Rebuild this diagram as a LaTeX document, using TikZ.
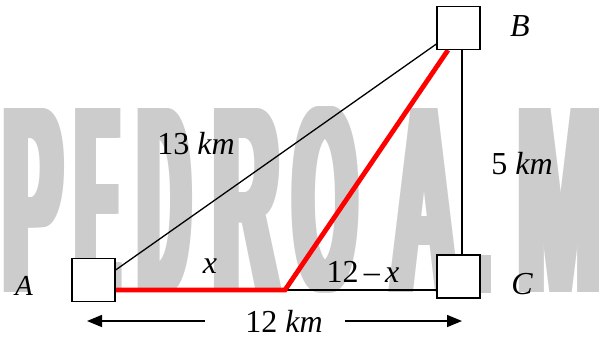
\documentclass[tikz,border=0pt]{standalone}
\usepackage{fontspec}
\setmainfont{Liberation Serif}
\newfontfamily\wmfont{Liberation Sans}
\usetikzlibrary{arrows.meta}
\definecolor{wmgray}{HTML}{CCCCCC}
\definecolor{redline}{HTML}{FF0000}
\tikzset{
  box/.style={draw=black, fill=white, line width=1.2pt, minimum size=43pt, inner sep=0pt},
  thin/.style={draw=black, line width=1.3pt},
  route/.style={draw=redline, line width=4.8pt, line join=miter},
  dimarrow/.style={draw=black, line width=1.5pt, -{Triangle[length=15pt,width=12pt]}},
  lbl/.style={font=\fontsize{32}{36}\selectfont, inner sep=0pt, anchor=base},
  wm/.style={text=wmgray, inner sep=0pt, anchor=south west},
}
% #1 left x, #2 base width, #3 letter, #4 name
\newcommand{\wmletter}[4]{%
  \foreach \d in {0,2,...,12}{%
    \node[wm] (#4\d) at (#1+\d,293) {\resizebox{#2}{184pt}{\fontsize{200}{200}\selectfont\wmfont\bfseries #3}};
  }}
\begin{document}
\begin{tikzpicture}[x=1pt, y=-1pt]
\path[use as bounding box] (0,0) rectangle (599,338);
% watermark "PEDRO A. M"
\wmletter{-2}{57pt}{P}{wP}
\wmletter{71}{41pt}{E}{wE}
\wmletter{133}{50pt}{D}{wD}
\wmletter{208}{64pt}{R}{wR}
\wmletter{288}{62pt}{O}{wO}
\wmletter{386}{64pt}{A}{wA}
\node[wm, fill=wmgray, minimum width=11pt, minimum height=38pt] (wDot) at (480,293) {};
\wmletter{512}{85pt}{M}{wM}
% boxes
\node[box] (A) at (93.5,280) {};
\node[box] (C) at (458.5,276.5) {};
\node[box] (B) at (458.5,28) {};
% connectors
\coordinate (P) at (285,290);
\draw[thin] ([yshift=-10pt]A.east) -- (P) -- (C.west |- P);
\draw[thin] ([yshift=10pt]A.east) -- ([yshift=-16pt]B.west);
\draw[thin] ([xshift=3.5pt]B.south) -- ([xshift=3.5pt]B.south |- C.north);
\draw[route] ([yshift=-10pt]A.east) -- (P) -- ([xshift=-10.5pt]B.south);
% boxes on top
\node[box] (A2) at (A) {};
\node[box] (C2) at (C) {};
\node[box] (B2) at (B) {};
% dimension arrows
\coordinate (L0) at (205,321);
\coordinate (L1) at (87,321);
\coordinate (R0) at (345,321);
\coordinate (R1) at (462,321);
\draw[dimarrow] (L0) -- (L1);
\draw[dimarrow] (R0) -- (R1);
% labels
\node[lbl, font=\fontsize{29}{33}\selectfont\itshape] (tA) at (24,295) {A};
\node[lbl, font=\fontsize{32}{36}\selectfont\itshape] (tB) at (520,36) {B};
\node[lbl, font=\fontsize{32}{36}\selectfont\itshape] (tC) at (522,294) {C};
\node[lbl] (tx) at (210,273) {\textit{x}};
\node[lbl] (t12x) at (363,282) {12\,\textendash\,\textit{x}};
\node[lbl] (t13) at (196,154) {13 \textit{km}};
\node[lbl] (t5) at (522,174) {5 \textit{km}};
\node[lbl] (t12) at (284,332) {12 \textit{km}};
\end{tikzpicture}
\end{document}
